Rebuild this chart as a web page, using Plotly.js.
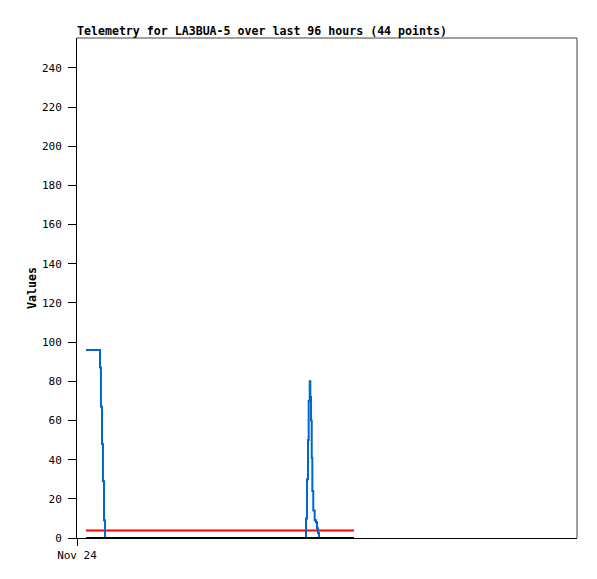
<!DOCTYPE html>
<html>
<head>
<meta charset="utf-8">
<script src="https://cdn.plot.ly/plotly-3.0.1.min.js"></script>
<style>
  html, body { margin: 0; padding: 0; background: #fff; }
  #chart { width: 597px; height: 579px; }
</style>
</head>
<body>
<div id="chart"></div>
<script>
// Sample times (Nov 24-26)
const times = [
  "2023-11-24 01:44", "2023-11-24 04:25", "2023-11-24 04:36", "2023-11-24 04:48",
  "2023-11-24 04:59", "2023-11-24 05:11", "2023-11-24 05:23",
  "2023-11-24 08:00", "2023-11-24 11:00", "2023-11-24 14:00", "2023-11-24 17:00",
  "2023-11-24 20:00", "2023-11-24 23:00", "2023-11-25 02:00", "2023-11-25 05:00",
  "2023-11-25 08:00", "2023-11-25 11:00", "2023-11-25 14:00", "2023-11-25 17:00",
  "2023-11-25 19:58", "2023-11-25 20:10", "2023-11-25 20:21", "2023-11-25 20:29",
  "2023-11-25 20:41", "2023-11-25 20:48", "2023-11-25 20:56", "2023-11-25 21:04",
  "2023-11-25 21:11", "2023-11-25 21:22", "2023-11-25 21:38", "2023-11-25 21:53",
  "2023-11-25 22:05", "2023-11-25 22:16", "2023-11-25 22:28",
  "2023-11-25 23:00", "2023-11-25 23:36", "2023-11-26 00:12", "2023-11-26 00:48",
  "2023-11-26 01:24", "2023-11-26 02:00", "2023-11-26 02:36", "2023-11-26 03:12",
  "2023-11-26 04:00", "2023-11-26 05:11"
];
const blueValues = [
  96, 87, 67, 48, 29, 9, 0,
  0, 0, 0, 0, 0, 0, 0, 0, 0, 0, 0, 0,
  10, 30, 50, 70, 80, 72, 60, 41, 24, 14, 9, 8, 5, 2.5, 0,
  0, 0, 0, 0, 0, 0, 0, 0, 0, 0
];
const redValues = [
  3.8, 3.8, 3.8, 3.8, 3.8, 3.8, 3.8, 3.8, 3.8, 3.8, 3.8,
  3.8, 3.8, 3.8, 3.8, 3.8, 3.8, 3.8, 3.8, 3.8, 3.8, 3.8,
  3.8, 3.8, 3.8, 3.8, 3.8, 3.8, 3.8, 3.8, 3.8, 3.8, 3.8,
  3.8, 3.8, 3.8, 3.8, 3.8, 3.8, 3.8, 3.8, 3.8, 3.8, 3.8
];
const blackValues = [
  0, 0, 0, 0, 0, 0, 0, 0, 0, 0, 0,
  0, 0, 0, 0, 0, 0, 0, 0, 0, 0, 0,
  0, 0, 0, 0, 0, 0, 0, 0, 0, 0, 0,
  0, 0, 0, 0, 0, 0, 0, 0, 0, 0, 0
];
const xTickVals = ["2023-11-24 00:00"];
const xTickText = ["Nov 24"];
const yTickVals = [0, 20, 40, 60, 80, 100, 120, 140, 160, 180, 200, 220, 240];
const titleText = "Telemetry for LA3BUA-5 over last 96 hours (44 points)";
const yTitleText = "Values";

const FONT = "DejaVu Sans Mono, Liberation Mono, monospace";

const traces = [
  { x: times, y: redValues, type: "scatter", mode: "lines",
    line: { color: "#ff0000", width: 2, shape: "hv" }, hoverinfo: "skip" },
  { x: times, y: blueValues, type: "scatter", mode: "lines",
    line: { color: "#0066cc", width: 2, shape: "hv" }, hoverinfo: "skip" },
  { x: times, y: blackValues, type: "scatter", mode: "lines",
    line: { color: "#000000", width: 2, shape: "hv" }, hoverinfo: "skip" }
];

const layout = {
  width: 597, height: 579,
  margin: { l: 77, r: 20, t: 38, b: 41, pad: 0 },
  paper_bgcolor: "#ffffff", plot_bgcolor: "#ffffff",
  showlegend: false,
  font: { family: FONT, size: 11, color: "#000" },
  title: {
    text: "<b>" + titleText + "</b>",
    font: { family: FONT, size: 11.6, color: "#000" },
    x: 77 / 597, xref: "container", xanchor: "left",
    y: 1 - 31 / 579, yref: "container", yanchor: "middle"
  },
  xaxis: {
    type: "date",
    range: ["2023-11-24 00:00", "2023-11-28 00:00"],
    tickmode: "array", tickvals: xTickVals, ticktext: xTickText,
    ticks: "outside", ticklen: 7, tickcolor: "#000", tickwidth: 1,
    showline: true, linecolor: "#000", linewidth: 1,
    showgrid: false, zeroline: false,
    tickfont: { family: FONT, size: 11, color: "#000" }
  },
  yaxis: {
    range: [0, 255.3],
    tickmode: "array", tickvals: yTickVals,
    ticks: "outside", ticklen: 8, tickcolor: "#000", tickwidth: 1,
    showline: true, linecolor: "#000", linewidth: 1,
    showgrid: false, zeroline: false,
    tickfont: { family: FONT, size: 11, color: "#000" },
    ticklabelstandoff: 4,
    title: { text: "<b>" + yTitleText + "</b>", font: { family: FONT, size: 11.6, color: "#000" }, standoff: 2 }
  },
  shapes: [
    { type: "line", xref: "paper", yref: "paper", x0: 0, x1: 1, y0: 1, y1: 1,
      line: { color: "#444", width: 1 } },
    { type: "line", xref: "paper", yref: "paper", x0: 1, x1: 1, y0: 0, y1: 1,
      line: { color: "#444", width: 1 } }
  ]
};

Plotly.newPlot("chart", traces, layout, { staticPlot: true, displayModeBar: false });
</script>
</body>
</html>
